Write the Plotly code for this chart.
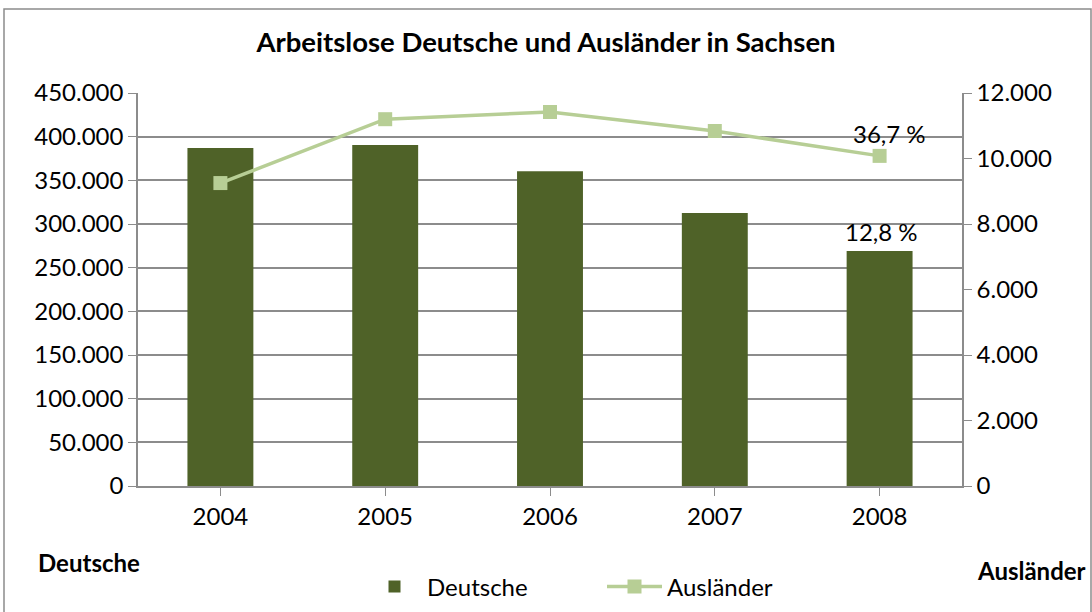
import plotly.graph_objects as go

years = ["2004", "2005", "2006", "2007", "2008"]
deutsche = [387000, 390500, 360500, 312500, 269000]
auslaender = [9250, 11200, 11420, 10840, 10080]
left_ticks = [0, 50000, 100000, 150000, 200000, 250000, 300000, 350000, 400000, 450000]
left_labels = ["0", "50.000", "100.000", "150.000", "200.000", "250.000", "300.000", "350.000", "400.000", "450.000"]
right_ticks = [0, 2000, 4000, 6000, 8000, 10000, 12000]
right_labels = ["0", "2.000", "4.000", "6.000", "8.000", "10.000", "12.000"]
labels_2008 = {"Deutsche": "12,8 %", "Ausländer": "36,7 %"}

FONT = "Lato"
FS = 24
W, H = 1092, 612
L, R, T, B = 138, 130, 93, 126
pw, ph = W - L - R, H - T - B

def to_px(x):
    return (x - L) / pw

def to_py(y):
    return (H - B - y) / ph

fig = go.Figure()
fig.add_trace(go.Bar(x=years, y=deutsche, name="Deutsche", marker=dict(color="#4F6228", line=dict(width=0)),
                     yaxis="y"))
fig.add_trace(go.Scatter(x=years, y=auslaender, name="Ausländer", mode="lines+markers",
                         line=dict(color="#B7CE95", width=3.5),
                         marker=dict(symbol="square", size=14, color="#B7CE95"), yaxis="y2"))

fig.update_layout(
    width=W, height=H,
    margin=dict(l=L, r=R, t=T, b=B, autoexpand=False),
    paper_bgcolor="white", plot_bgcolor="white",
    font=dict(family=FONT, size=FS, color="black"),
    bargap=0.6,
    title=dict(text="<b>Arbeitslose Deutsche und Ausländer in Sachsen</b>", x=0.5, xanchor="center",
               y=1 - 42 / H, yanchor="middle", font=dict(size=27.5, family=FONT)),
    xaxis=dict(type="category", categoryorder="array", categoryarray=years, range=[-0.5, len(years) - 0.5],
               showline=True, linecolor="#8C8C8C", linewidth=1.5, ticks="outside", ticklen=8,
               tickcolor="#8C8C8C", tickfont=dict(size=FS), showgrid=False,
               tickangle=0, automargin=False),
    yaxis=dict(range=[0, 450000], tickvals=left_ticks, ticktext=left_labels, showgrid=True,
               gridcolor="#8C8C8C", gridwidth=1.5, showline=True, linecolor="#8C8C8C", linewidth=1.5,
               ticks="outside", ticklen=8, tickcolor="#8C8C8C", zeroline=False, tickfont=dict(size=FS),
               automargin=False),
    yaxis2=dict(range=[0, 12000], tickvals=right_ticks, ticktext=right_labels, overlaying="y", side="right",
                showgrid=False, showline=True, linecolor="#8C8C8C", linewidth=1.5, ticks="outside",
                ticklen=8, tickcolor="#8C8C8C", zeroline=False, tickfont=dict(size=FS), automargin=False),
    legend=dict(orientation="h", x=to_px(362), xanchor="left", y=to_py(587), yanchor="middle",
                font=dict(size=FS), traceorder="normal", entrywidth=170, entrywidthmode="pixels",
                itemwidth=55),
    showlegend=True,
)

last = len(years) - 1
fig.add_annotation(x=last, y=auslaender[last], yref="y2", text=labels_2008["Ausländer"], showarrow=False,
                   yshift=22, xshift=10, font=dict(size=FS))
fig.add_annotation(x=last, y=deutsche[last], yref="y", text=labels_2008["Deutsche"], showarrow=False,
                   yshift=20, xshift=2, font=dict(size=FS))
fig.add_annotation(xref="paper", yref="paper", x=to_px(89), y=to_py(562), text="<b>Deutsche</b>",
                   xanchor="center", yanchor="middle", showarrow=False, font=dict(size=FS))
fig.add_annotation(xref="paper", yref="paper", x=to_px(1031), y=to_py(570), text="<b>Ausländer</b>",
                   xanchor="center", yanchor="middle", showarrow=False, font=dict(size=FS))

fig.add_shape(type="rect", xref="paper", yref="paper", x0=to_px(4), x1=to_px(1091), y0=to_py(615), y1=to_py(9),
              line=dict(color="#8C8C8C", width=1.5), fillcolor="rgba(0,0,0,0)", layer="below")

fig.write_html("out.html", config={"displayModeBar": False},
               post_script="document.body.style.margin='0';")
